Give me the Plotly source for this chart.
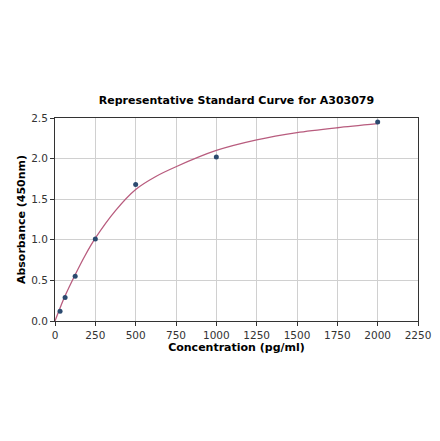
import plotly.graph_objects as go

# standard points
conc = [31.25, 62.5, 125, 250, 500, 1000, 2000]
absorb = [0.12, 0.29, 0.55, 1.01, 1.68, 2.02, 2.45]

# fitted curve
curve_x = [0, 31.25, 62.5, 125, 187.5, 250, 375, 500, 625, 750, 1000, 1250, 1500, 1750, 2000]
curve_y = [0.0, 0.16, 0.31, 0.57, 0.81, 1.02, 1.36, 1.62, 1.78, 1.90, 2.10, 2.23, 2.32, 2.38, 2.43]

x_ticks = [0, 250, 500, 750, 1000, 1250, 1500, 1750, 2000, 2250]
y_ticks = [0.0, 0.5, 1.0, 1.5, 2.0, 2.5]

fig = go.Figure()

fig.add_trace(go.Scatter(
    x=curve_x, y=curve_y, mode='lines',
    line=dict(color='#b85c7e', width=1.3, shape='spline', smoothing=0.8),
    showlegend=False, hoverinfo='skip'
))
fig.add_trace(go.Scatter(
    x=conc, y=absorb, mode='markers',
    marker=dict(color='#2b4a6f', size=5),
    showlegend=False
))

axis_style = dict(
    showline=True, linecolor='#333333', linewidth=1, mirror=True,
    showgrid=True, gridcolor='#d0d0d0', gridwidth=1,
    ticks='outside', ticklen=4, tickcolor='#333333',
    tickfont=dict(family='DejaVu Sans', size=10.5, color='#333333'),
    zeroline=False, automargin=False,
)

fig.update_layout(
    width=440, height=441,
    plot_bgcolor='white', paper_bgcolor='white',
    margin=dict(l=47, r=30, t=110, b=128),
    title=dict(
        text='<b>Representative Standard Curve for A303079</b>',
        font=dict(family='DejaVu Sans', size=11, color='black'),
        x=0.5, xref='paper', xanchor='center', y=0.791, yanchor='middle'
    ),
    xaxis=dict(
        axis_style, range=[0, 2250], tickvals=x_ticks,
        title=dict(text='<b>Concentration (pg/ml)</b>', standoff=3,
                   font=dict(family='DejaVu Sans', size=11, color='black')),
    ),
    yaxis=dict(
        axis_style, range=[0, 2.5], tickvals=y_ticks, tickformat='.1f',
        title=dict(text='<b>Absorbance (450nm)</b>', standoff=3,
                   font=dict(family='DejaVu Sans', size=11, color='black')),
    ),
)

fig.write_html("out.html")
